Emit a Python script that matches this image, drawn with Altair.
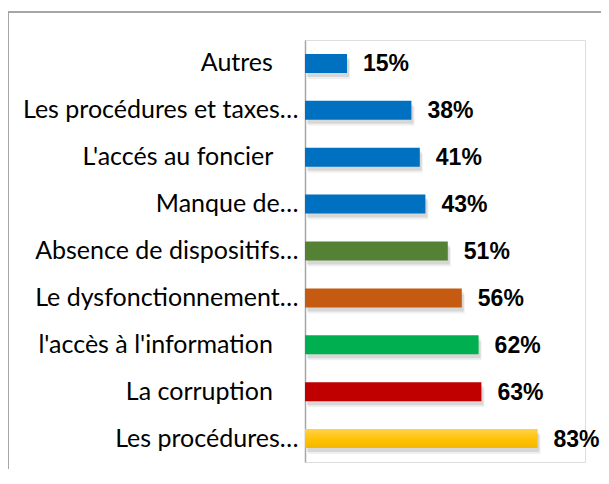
import altair as alt
import pandas as pd

categories = [
    "Autres",
    "Les procédures et taxes…",
    "L'accés au foncier",
    "Manque de…",
    "Absence de dispositifs…",
    "Le dysfonctionnement…",
    "l'accès à l'information",
    "La corruption",
    "Les procédures…",
]
values = [15, 38, 41, 43, 51, 56, 62, 63, 83]
colors = ["#0070C0", "#0070C0", "#0070C0", "#0070C0", "#548235",
          "#C55A11", "#00B050", "#C00000", "#FFC000"]
padded = ["Autres", "L'accés au foncier", "l'accès à l'information", "La corruption"]

df = pd.DataFrame({"cat": categories, "val": values, "col": colors})
df["lbl"] = df["val"].astype(str) + "%"

W, H = 280, 422
PAD_L, PAD_T = 297, 32

pad_str = "\u00a0\u00a0\u00a0\u00a0\u200b"
label_expr = ("indexof(" + str(padded) + ", datum.label) >= 0 ? datum.label + '"
              + pad_str + "' : datum.label")

y_enc = alt.Y("cat:N", sort=categories,
              scale=alt.Scale(paddingInner=0.0, paddingOuter=0.0),
              axis=alt.Axis(title=None, ticks=False, domainColor="#A6A6A6",
                            domainWidth=1.5, labelPadding=7,
                            labelFont="Lato", labelFontSize=25,
                            labelColor="#000000", labelLimit=400,
                            labelExpr=label_expr))
x_enc = alt.X("val:Q", scale=alt.Scale(domain=[0, 100]), axis=None)

base = alt.Chart(df)

shadow = base.mark_bar(size=19, color="#000000", opacity=0.10, xOffset=2, yOffset=4).encode(y=y_enc, x=x_enc)
shadow2 = base.mark_bar(size=19, color="#000000", opacity=0.06, xOffset=3, yOffset=6).encode(y=y_enc, x=x_enc)

bars = base.mark_bar(size=19).encode(
    y=y_enc, x=x_enc,
    color=alt.Color("col:N", scale=None, legend=None),
)

gold = base.transform_filter(alt.datum.cat == "Les procédures…").mark_bar(
    size=19,
    color=alt.Gradient(gradient="linear",
                       stops=[alt.GradientStop(color="#FFD24A", offset=0),
                              alt.GradientStop(color="#FFC000", offset=0.6),
                              alt.GradientStop(color="#F2B800", offset=1)],
                       x1=0, x2=0, y1=0, y2=1),
).encode(y=y_enc, x=x_enc)

text = base.mark_text(align="left", baseline="middle", dx=16, dy=1,
                      font="Liberation Sans", fontSize=23, fontWeight="bold",
                      color="#000000").encode(y=y_enc, x=x_enc, text="lbl:N")

border_top = alt.Chart(df).mark_rule(color="#A6A6A6", strokeWidth=1.5).encode(
    x=alt.value(-PAD_L), x2=alt.value(W + 40), y=alt.value(-28))
border_left = alt.Chart(df).mark_rule(color="#A6A6A6", strokeWidth=1.5).encode(
    x=alt.value(-PAD_L), y=alt.value(-28), y2=alt.value(H + 40))

chart = alt.layer(border_top, border_left, shadow2, shadow, bars, gold, text).properties(
    width=W, height=H,
    autosize=alt.AutoSizeParams(type="none"),
    padding={"left": PAD_L, "top": PAD_T, "right": 16, "bottom": 7},
).configure_view(stroke=None).configure(background="white")

chart.save("out.html", embed_options={"renderer": "svg", "actions": False})
